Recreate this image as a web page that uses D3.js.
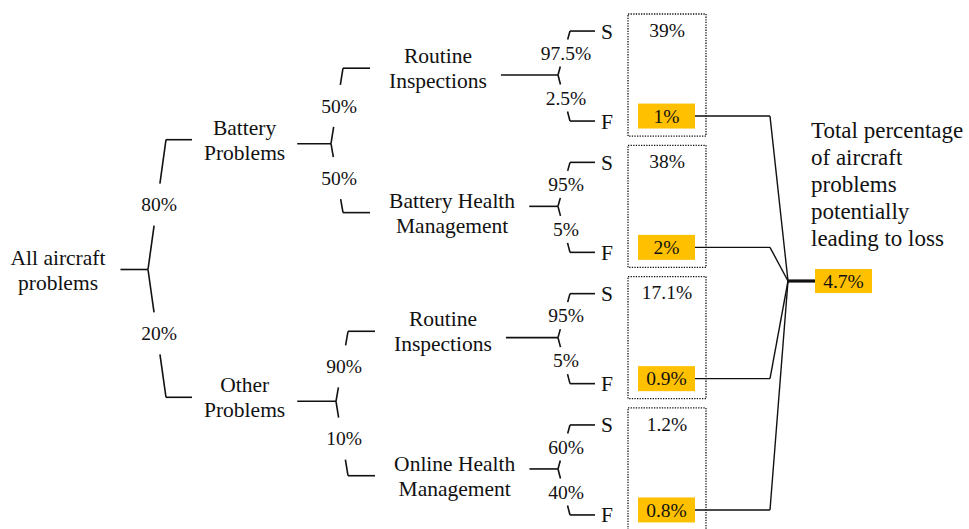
<!DOCTYPE html>
<html>
<head>
<meta charset="utf-8">
<script src="https://cdn.jsdelivr.net/npm/d3@7"></script>
<style>
  html, body { margin: 0; padding: 0; background: #fff; }
  text { font-family: "Liberation Serif", "Times New Roman", serif; fill: #111; }
</style>
</head>
<body>
<svg id="chart" width="969" height="529"></svg>
<script>
// Tree data
const rootLabel = ['All aircraft', 'problems'];
const level1Labels = [['Battery', 'Problems'], ['Other', 'Problems']];
const level1Pct = ['80%', '20%'];
const level2Labels = [['Routine', 'Inspections'], ['Battery Health', 'Management'],
                      ['Routine', 'Inspections'], ['Online Health', 'Management']];
const level2Pct = ['50%', '50%', '90%', '10%'];
const successPct = ['97.5%', '95%', '95%', '60%'];
const failPct = ['2.5%', '5%', '5%', '40%'];
const successOutcome = ['39%', '38%', '17.1%', '1.2%'];
const failOutcome = ['1%', '2%', '0.9%', '0.8%'];
const totalLoss = '4.7%';
const captionLines = ['Total percentage', 'of aircraft', 'problems', 'potentially', 'leading to loss'];

const orange = '#FFC000';
const svg = d3.select('#chart');
const g = svg.append('g');

// y scale: one band per leaf group
const yGroup = d3.scaleBand()
    .domain(d3.range(4))
    .range([14, 530])
    .paddingInner(0.07);
const gy = i => yGroup(i) + yGroup.bandwidth() / 2;

// x positions per level
const x0Fork = 148, x1Fork = 331, x2Fork = 558;
const boxL = 628, boxR = 706, oraL = 638, oraR = 695;

function line(x1, y1, x2, y2, w) {
    g.append('line')
        .attr('x1', x1).attr('y1', y1).attr('x2', x2).attr('y2', y2)
        .attr('stroke', '#111').attr('stroke-width', w || 1.6);
}

// multi-line label, centered vertically on y
function label(lines, x, y, anchor, size) {
    const lh = 25;
    const t = g.append('text')
        .attr('text-anchor', anchor)
        .style('font-size', size + 'px');
    lines.forEach((s, i) => {
        t.append('tspan')
            .attr('x', x)
            .attr('y', y + (i - (lines.length - 1) / 2) * lh)
            .attr('dy', '0.35em')
            .text(s);
    });
    return t;
}

// bracket arm: slanted line from fork with gap for percent label, then horizontal
function arm(fx, fy, ty, dx, gap, pct, armLen) {
    const ex = fx + dx;
    const mx = fx + dx * 0.5, my = (fy + ty) / 2;
    const dir = Math.sign(ty - fy);
    const xAt = yy => fx + dx * (yy - fy) / (ty - fy);
    line(fx, fy, xAt(my - dir * gap), my - dir * gap);
    line(xAt(my + dir * gap), my + dir * gap, ex, ty);
    line(ex, ty, ex + armLen, ty);
    label([pct], mx + 2, my, 'middle', 19.5);
    return ex + armLen;
}

const l1y = [(gy(0) + gy(1)) / 2 + 3, (gy(2) + gy(3)) / 2 - 2];
const rootY = (l1y[0] + l1y[1]) / 2 - 3;

// root
const rootText = label(rootLabel, 58, rootY, 'middle', 21.5);
const rb = rootText.node().getBBox();
line(rb.x + rb.width + 15, rootY, x0Fork, rootY);

level1Labels.forEach((lab, i) => {
    const ty = l1y[i];
    const end = arm(x0Fork, rootY, ty - 4, 18, 21, level1Pct[i], 26);
    const t = label(lab, 0, ty - 4, 'middle', 21.5);
    const w = t.node().getBBox().width;
    t.selectAll('tspan').attr('x', end + 12 + w / 2);
    const right = end + 12 + w;
    line(right + 12, ty, x1Fork + i * 5, ty);

    [0, 1].forEach(j => {
        const k = i * 2 + j;
        const ny = ty + (gy(k) - ty) * 1.1;
        const end2 = arm(x1Fork + i * 5, ty, ny, 12, 21, level2Pct[k], 27);
        const t2 = label(level2Labels[k], 0, ny, 'middle', 21.5);
        const w2 = t2.node().getBBox().width;
        t2.selectAll('tspan').attr('x', end2 + 19 + w2 / 2);
        line(end2 + 19 + w2 + 14, gy(k), x2Fork, gy(k));
    });
});

// S / F branches and outcome boxes
d3.range(4).forEach(k => {
    const cy = gy(k);
    const sy = cy - 44, fy = cy + 46;
    const e1 = arm(x2Fork, cy, sy, 12, 13.5, successPct[k], 25);
    const e2 = arm(x2Fork, cy, fy, 12, 13.5, failPct[k], 25);
    label(['S'], e1 + 6, sy, 'start', 21.5);
    label(['F'], e2 + 6, fy, 'start', 21.5);

    const top = yGroup(k);
    g.append('rect')
        .attr('x', boxL).attr('y', top)
        .attr('width', boxR - boxL).attr('height', yGroup.bandwidth())
        .attr('fill', 'none').attr('stroke', '#111')
        .attr('stroke-width', 1.3).attr('stroke-dasharray', '1.3,1.3');

    label([successOutcome[k]], (boxL + boxR) / 2, sy - 1, 'middle', 19.5);
    const oy = fy - 5;
    g.append('rect')
        .attr('x', oraL).attr('y', oy - 12.5)
        .attr('width', oraR - oraL).attr('height', 25)
        .attr('fill', orange);
    label([failOutcome[k]], (oraL + oraR) / 2, oy, 'middle', 19.5);

    // connector to total
    line(oraR, oy, 770, oy, 1.4);
    line(770, oy, 788, 281, 1.4);
});

// total
line(787, 281, 815, 281, 3.2);
g.append('rect')
    .attr('x', 815).attr('y', 269)
    .attr('width', 57).attr('height', 24)
    .attr('fill', orange);
label([totalLoss], 843.5, 281, 'middle', 19.5);

captionLines.forEach((s, i) => {
    g.append('text')
        .attr('x', 811)
        .attr('y', 138 + i * 27)
        .style('font-size', '23px')
        .text(s);
});
</script>
</body>
</html>
